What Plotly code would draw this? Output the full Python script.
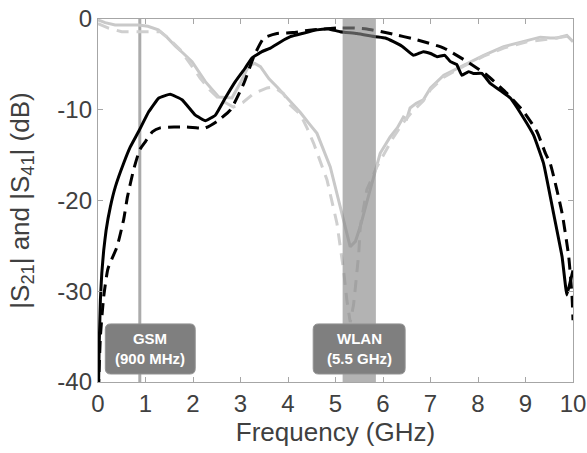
import plotly.graph_objects as go

# ---------------- data ----------------
# Black solid (|S21|, measured)
f_s21_meas = [0.01, 0.025, 0.05, 0.08, 0.12, 0.17, 0.26, 0.365, 0.54, 0.68, 0.855, 1.07, 1.28, 1.52, 1.77,
              2.05, 2.26, 2.47, 2.68, 2.89, 3.1, 3.24, 3.45, 3.63, 3.85, 4.05, 4.3, 4.61, 4.85, 5.1,
              5.45, 5.84, 6.05, 6.22, 6.4, 6.64, 6.85, 7.0, 7.14, 7.3, 7.42, 7.55, 7.66, 7.8, 7.9,
              8.08, 8.26, 8.5, 8.68, 8.96, 9.17, 9.38, 9.59, 9.77, 9.87, 9.94, 10.0]
s21_meas = [-41, -36, -31, -28, -25.5, -23.3, -20.7, -18.5, -15.9, -14.1, -12.4, -10.2, -8.7, -8.3, -8.9,
            -10.6, -11.2, -10.6, -8.7, -6.9, -5.4, -4.3, -3.6, -3.2, -2.5, -1.95, -1.6, -1.2, -1.1, -1.4,
            -1.6, -1.95, -2.1, -2.5, -3.0, -4.0, -3.6, -3.8, -4.15, -4.0, -4.7, -5.0, -6.2, -5.8, -6.0,
            -6.0, -7.1, -8.0, -8.7, -10.9, -12.8, -15.9, -21.4, -26.2, -30.4, -29.0, -27.7]

# Black dashed (|S21|, simulated)
f_s21_sim = [0.01, 0.05, 0.12, 0.21, 0.4, 0.54, 0.62, 0.75, 0.88, 1.0, 1.15, 1.31, 1.6, 1.87, 2.1, 2.26,
             2.5, 2.79, 3.07, 3.28, 3.49, 3.77, 4.1, 4.5, 5.03, 5.4, 5.66, 6.15, 6.72, 7.28, 7.77, 8.19,
             8.61, 8.96, 9.24, 9.42, 9.52, 9.77, 9.91, 9.98, 10.0]
s21_sim = [-41, -35, -30.6, -27.5, -25.1, -22.1, -19.6, -16.6, -14.4, -13.5, -12.4, -12.0, -11.9, -11.9,
           -12.0, -12.0, -11.3, -10.0, -7.1, -4.15, -2.1, -1.6, -1.5, -1.2, -1.0, -1.0, -1.1, -1.6, -2.3,
           -3.2, -4.7, -6.2, -8.2, -10.2, -12.4, -14.8, -15.9, -21.4, -26.2, -30.6, -33.2]

# Grey solid (|S41|, measured)
f_s41_meas = [0.0, 0.15, 0.36, 0.6, 0.85, 1.05, 1.27, 1.45, 1.63, 1.8, 1.98, 2.26, 2.54, 2.82, 3.0,
              3.17, 3.3, 3.42, 3.6, 3.77, 4.05, 4.26, 4.47, 4.61, 4.89, 5.1, 5.31, 5.42, 5.52, 5.73,
              5.94, 6.15, 6.3, 6.43, 6.5, 6.57, 6.7, 6.85, 7.0, 7.28, 7.7, 8.12, 8.54, 9.03, 9.31,
              9.52, 9.66, 9.87, 10.0]
s41_meas = [-0.1, -0.4, -0.66, -0.7, -0.66, -0.8, -1.2, -2.0, -3.0, -3.8, -4.7, -6.9, -8.6, -8.7, -7.0,
            -5.2, -4.9, -5.25, -6.6, -7.5, -9.1, -10.3, -11.7, -12.6, -16.3, -20.7, -25.1, -24.5, -22.9,
            -18.8, -14.8, -13.0, -12.0, -10.8, -11.0, -9.8, -9.3, -8.9, -7.6, -6.2, -5.1, -4.0, -3.05,
            -2.4, -2.0, -2.1, -2.1, -1.8, -2.5]

# Grey dashed (|S41|, simulated)
f_s41_sim = [0.0, 0.22, 0.5, 0.75, 1.0, 1.31, 1.5, 1.73, 1.95, 2.15, 2.35, 2.57, 2.85, 3.05, 3.28, 3.56,
             3.7, 3.9, 4.05, 4.26, 4.4, 4.54, 4.82, 5.03, 5.17, 5.24, 5.31, 5.38, 5.42, 5.49, 5.52,
             5.66, 5.87, 6.05, 6.2, 6.4, 6.6, 6.85, 7.0, 7.28, 7.7, 8.12, 8.54, 9.03, 9.52, 9.87, 10.0]
s41_sim = [-0.5, -1.0, -1.4, -1.4, -1.4, -1.4, -2.2, -3.4, -5.0, -6.5, -7.8, -8.9, -9.7, -9.2, -8.2,
           -7.6, -7.5, -8.2, -9.5, -10.5, -12.0, -13.7, -17.7, -22.5, -27.7, -31.0, -33.4, -31.5, -29.5,
           -25.8, -22.9, -18.8, -16.3, -14.6, -13.2, -11.6, -10.3, -9.0, -7.8, -6.4, -5.2, -4.1, -3.2,
           -2.5, -2.2, -1.9, -2.5]

gsm_freq = 0.88            # GHz marker line
wlan_band = [5.15, 5.85]   # GHz shaded band
x_ticks = [0, 1, 2, 3, 4, 5, 6, 7, 8, 9, 10]
y_ticks = [0, -10, -20, -30, -40]

FONT = "Liberation Sans, Arial, sans-serif"
TXT = "#404040"
AX = "#a6a6a6"

fig = go.Figure()

fig.add_trace(go.Scatter(x=f_s41_meas, y=s41_meas, mode="lines",
                         line=dict(color="#c9c9c9", width=3), showlegend=False))
fig.add_trace(go.Scatter(x=f_s41_sim, y=s41_sim, mode="lines",
                         line=dict(color="#cfcfcf", width=3, dash="12px,8px"), showlegend=False))
fig.add_trace(go.Scatter(x=f_s21_sim, y=s21_sim, mode="lines",
                         line=dict(color="black", width=3, dash="12px,7px", shape="spline", smoothing=0.5),
                         showlegend=False))
fig.add_trace(go.Scatter(x=f_s21_meas, y=s21_meas, mode="lines",
                         line=dict(color="black", width=3, shape="spline", smoothing=0.3),
                         showlegend=False))

# GSM vertical line
fig.add_shape(type="line", xref="x", yref="paper", x0=gsm_freq, x1=gsm_freq, y0=0, y1=1,
              line=dict(color="#ababab", width=3), layer="below")
# WLAN band
fig.add_shape(type="rect", xref="x", yref="paper", x0=wlan_band[0], x1=wlan_band[1], y0=0, y1=1,
              fillcolor="#888888", opacity=0.64, line=dict(width=0), layer="above")


def rounded_box(x0, x1, y0, y1, rx=0.011, ry=0.015):
    return (f"M {x0+rx},{y0} L {x1-rx},{y0} Q {x1},{y0} {x1},{y0+ry} "
            f"L {x1},{y1-ry} Q {x1},{y1} {x1-rx},{y1} L {x0+rx},{y1} "
            f"Q {x0},{y1} {x0},{y1-ry} L {x0},{y0+ry} Q {x0},{y0} {x0+rx},{y0} Z")


for (bx0, bx1), label in [((0.0154, 0.2047), "GSM<br>(900 MHz)"),
                           ((0.453, 0.6466), "WLAN<br>(5.5 GHz)")]:
    fig.add_shape(type="path", xref="paper", yref="paper", path=rounded_box(bx0, bx1, 0.022, 0.16),
                  fillcolor="#7f7f7f", line=dict(color="#939393", width=1), layer="above")
    fig.add_annotation(xref="paper", yref="paper", x=(bx0 + bx1) / 2, y=0.091, text=f"<b>{label}</b>",
                       showarrow=False, font=dict(family=FONT, size=15, color="white"),
                       xanchor="center", yanchor="middle")

axis_common = dict(showline=True, linecolor=AX, linewidth=1.3, mirror="ticks", ticks="inside",
                   ticklen=5, tickcolor=AX, showgrid=False, zeroline=False, automargin=False,
                   ticklabeloverflow="allow",
                   tickfont=dict(family=FONT, size=24, color=TXT))

fig.update_xaxes(range=[0, 10], tickvals=x_ticks, ticktext=[str(v) for v in x_ticks],
                 title=dict(text="Frequency (GHz)", font=dict(family=FONT, size=26, color=TXT), standoff=4),
                 **axis_common)
fig.update_yaxes(range=[-40, 0], tickvals=y_ticks, ticktext=[str(v) for v in y_ticks],
                 title=dict(text="|S<sub>21</sub>| and |S<sub>41</sub>| (dB)",
                            font=dict(family=FONT, size=26, color=TXT), standoff=20),
                 **axis_common)

fig.update_layout(width=587, height=453, margin=dict(l=98, r=14, t=19, b=71),
                  paper_bgcolor="white", plot_bgcolor="white", showlegend=False)

# remove the browser's default 8px body margin so the figure fills the window exactly
fig.write_html("out.html", config={"displayModeBar": False},
               post_script="document.body.style.margin='0';document.body.style.overflow='hidden';")
